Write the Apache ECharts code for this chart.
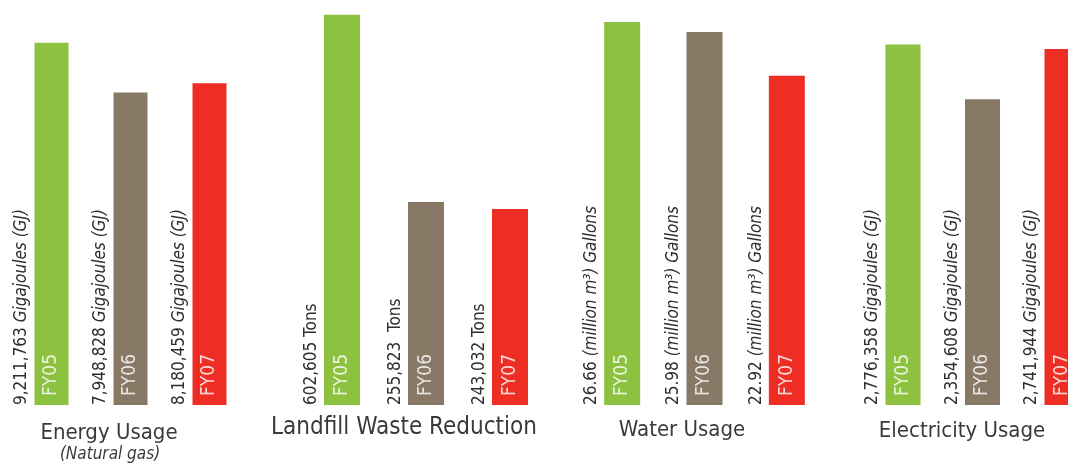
<!DOCTYPE html>
<html><head><meta charset="utf-8">
<script src="https://cdn.jsdelivr.net/npm/echarts@6/dist/echarts.min.js"></script>
<style>html,body{margin:0;padding:0;background:#fff}#c{width:1068px;height:463px}</style>
</head><body><div id="c"></div>
<script>
const categories = ['FY05', 'FY06', 'FY07'];
const energy = [9211763, 7948828, 8180459];
const landfill = [602605, 255823, 243032];
const water = [26.66, 25.98, 22.92];
const electricity = [2776358, 2354608, 2741944];
const panelTitles = ['Energy Usage', 'Landfill Waste Reduction', 'Water Usage', 'Electricity Usage'];
const energySub = '(Natural gas)';
const units = [' Gigajoules (GJ)', ' Tons', ' (million m³) Gallons', ' Gigajoules (GJ)'];
const colors = ['#8cc23f', '#887866', '#ee2d24'];

const FONT = '"DejaVu Sans Condensed", "DejaVu Sans", sans-serif';
const panels = [
  { data: energy, fmt: v => v.toLocaleString('en-US'), unit: units[0], italic: true, sep: [' ', ' ', ' '],
    grid: { left: 12, right: 819 }, gap: true, y: { min: 0, max: 10300000 }, bw: 34 },
  { data: landfill, fmt: v => v.toLocaleString('en-US'), unit: units[1], italic: false, sep: [' ', '  ', ' '],
    grid: { left: 300, right: 516 }, gap: true, y: { min: -120000, max: 630000, startValue: -120000 }, bw: 36 },
  { data: water, fmt: v => v.toFixed(2), unit: units[2], italic: true, sep: [' ', ' ', ' '],
    grid: { left: 581, right: 240 }, gap: true, y: { min: 0, max: 28.2 }, bw: 36 },
  { data: electricity, fmt: v => v.toLocaleString('en-US'), unit: units[3], italic: true, sep: [' ', ' ', ' '],
    grid: { left: 903, right: 6 }, gap: false, y: { min: 0, max: 3120000 }, bw: 35 }
];

const grid = [], xAxis = [], yAxis = [], series = [];
panels.forEach((p, i) => {
  grid.push({ left: p.grid.left, right: p.grid.right, top: 0, height: 405, containLabel: false });
  xAxis.push({ type: 'category', gridIndex: i, data: categories, show: false, boundaryGap: p.gap });
  yAxis.push(Object.assign({ type: 'value', gridIndex: i, show: false }, p.y));
  series.push({
    type: 'bar', xAxisIndex: i, yAxisIndex: i, data: p.data, barWidth: p.bw, silent: true,
    itemStyle: { color: c => colors[c.dataIndex] },
    label: {
      show: true, position: 'insideBottom', distance: 9, rotate: 90, align: 'left', verticalAlign: 'middle',
      formatter: c => categories[c.dataIndex], color: 'rgba(255,255,255,0.82)',
      fontFamily: FONT, fontSize: 19
    },
    z: 2
  });
  series.push({
    type: 'bar', xAxisIndex: i, yAxisIndex: i, data: p.data, barWidth: p.bw, barGap: '-100%', silent: true,
    itemStyle: { color: 'rgba(0,0,0,0)' },
    label: {
      show: true, position: [-4, '100%'], rotate: 90, align: 'left', verticalAlign: 'bottom',
      formatter: c => '{n|' + p.fmt(c.value) + '}{u|' + p.sep[c.dataIndex].slice(1) + p.unit + '}',
      rich: {
        n: { fontFamily: FONT, fontSize: 17, color: '#2e2e2e' },
        u: { fontFamily: FONT, fontSize: 17, color: '#2e2e2e', fontStyle: p.italic ? 'italic' : 'normal' }
      }
    },
    z: 3
  });
});

const titleX = [109, 404, 682, 962];
const titleY = [433, 428, 430, 431];
const titleSize = [22, 24, 22, 22];
const graphic = panelTitles.map((t, i) => ({
  type: 'text', x: titleX[i], y: titleY[i],
  style: { text: t, fill: '#3a3a3a', font: titleSize[i] + 'px ' + FONT, textAlign: 'center', textVerticalAlign: 'middle' }
}));
graphic.push({
  type: 'text', x: 110, y: 455,
  style: { text: energySub, fill: '#3a3a3a', font: 'italic 17px ' + FONT, textAlign: 'center', textVerticalAlign: 'middle' }
});

const chart = echarts.init(document.getElementById('c'));
chart.setOption({ animation: false, grid, xAxis, yAxis, series, graphic });
</script></body></html>
